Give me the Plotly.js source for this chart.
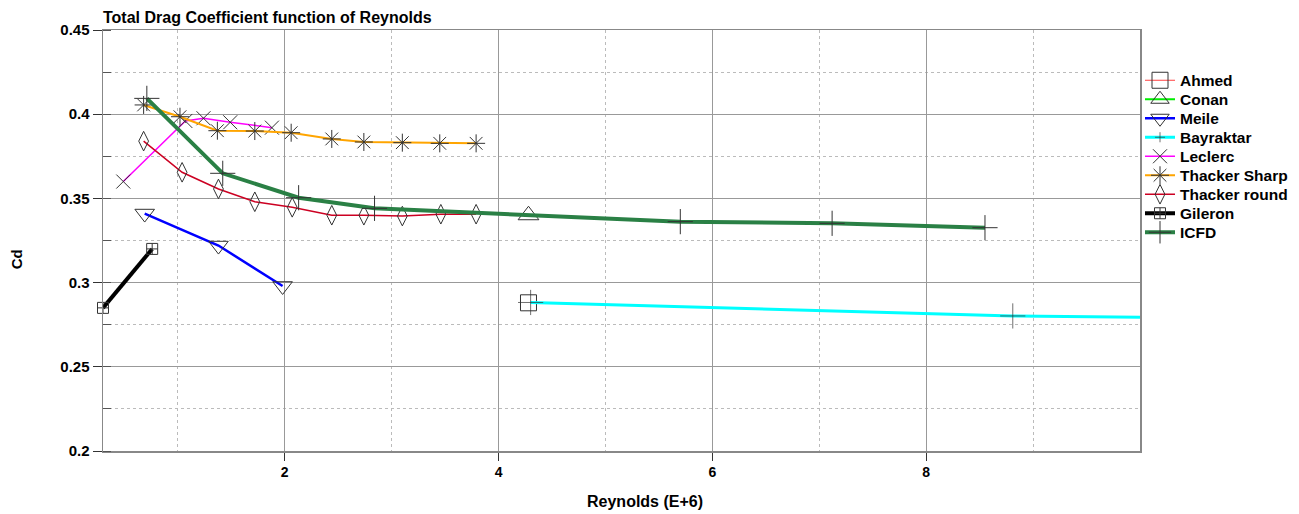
<!DOCTYPE html>
<html>
<head>
<meta charset="utf-8">
<script src="https://cdn.plot.ly/plotly-3.0.1.min.js"></script>
<style>html,body{margin:0;padding:0;background:#fff;}#chart{width:1299px;height:514px;}</style>
</head>
<body>
<div id="chart"></div>
<script>
// ---- data (Reynolds in E+6, Cd) ----
const ahmedX = [4.28];
const ahmedY = [0.288];
const conanX = [4.28];
const conanY = [0.340];
const meileX = [0.69, 1.38, 1.98];
const meileY = [0.341, 0.322, 0.298];
const bayraktarX = [4.30, 5.97, 7.95, 8.81, 10.0];
const bayraktarY = [0.2882, 0.2851, 0.2814, 0.2802, 0.2794];
const leclercX = [0.49, 1.07, 1.24, 1.49, 1.88];
const leclercY = [0.360, 0.396, 0.3976, 0.3952, 0.392];
const sharpX = [0.68, 1.02, 1.37, 1.72, 2.06, 2.44, 2.74, 3.10, 3.45, 3.79];
const sharpY = [0.4055, 0.3985, 0.3902, 0.3900, 0.3890, 0.3853, 0.3835, 0.3831, 0.3827, 0.3827];
const roundX = [0.68, 1.04, 1.38, 1.72, 2.07, 2.44, 2.74, 3.10, 3.46, 3.79];
const roundY = [0.384, 0.3655, 0.3556, 0.348, 0.3447, 0.340, 0.340, 0.3395, 0.3406, 0.3406];
const gileronX = [0.30, 0.76];
const gileronY = [0.285, 0.320];
const icfdX = [0.71, 1.42, 2.13, 2.84, 5.70, 7.12, 8.55];
const icfdY = [0.4094, 0.3649, 0.3504, 0.3441, 0.3362, 0.3352, 0.3326];
const xTicks = [2, 4, 6, 8];

const FAM = 'Liberation Sans, Arial, sans-serif';
const mk = (symbol, size) => ({symbol: symbol, size: size, color: '#333', line: {width: 1, color: '#333'}});

const traces = [
  {name: 'Ahmed', x: ahmedX, y: ahmedY, mode: 'lines+markers', line: {color: '#ff4040', width: 1}, marker: mk('square-open', 16)},
  {name: 'Conan', x: conanX, y: conanY, mode: 'lines+markers', line: {color: '#00ee00', width: 2}, marker: mk('triangle-up-open', 18)},
  {name: 'Meile', x: meileX, y: meileY, mode: 'lines+markers', line: {color: '#0000ff', width: 2.5}, marker: mk('triangle-down-open', 17)},
  {name: 'Bayraktar', x: bayraktarX, y: bayraktarY, mode: 'lines+markers', line: {color: '#00ffff', width: 3}, marker: Object.assign(mk('cross-thin-open', 18), {size: [18, 0, 0, 18, 0]})},
  {name: 'Leclerc', x: leclercX, y: leclercY, mode: 'lines+markers', line: {color: '#ff00ff', width: 1.5}, marker: mk('x-thin-open', 14)},
  {name: 'Thacker Sharp', x: sharpX, y: sharpY, mode: 'lines+markers', line: {color: '#ffa500', width: 2}, marker: mk('asterisk-open', 15)},
  {name: 'Thacker round', x: roundX, y: roundY, mode: 'lines+markers', line: {color: '#cc0022', width: 1.5}, marker: mk('diamond-tall-open', 14)},
  {name: 'Gileron', x: gileronX, y: gileronY, mode: 'lines+markers', line: {color: '#000000', width: 4}, marker: mk('square-cross-open', 11)},
  {name: 'ICFD', x: icfdX, y: icfdY, mode: 'lines+markers', line: {color: '#2a8045', width: 4}, marker: mk('cross-thin-open', 18)}
];
traces.forEach(t => { t.cliponaxis = false; });

const bold = (size) => ({family: FAM, size: size, weight: 'bold', color: '#000'});

const layout = {
  width: 1299, height: 514,
  paper_bgcolor: '#fff', plot_bgcolor: '#fff',
  margin: {l: 103, r: 159, t: 30, b: 63, autoexpand: false},
  font: bold(14),
  title: {text: 'Total Drag Coefficient function of Reynolds', x: 0, xref: 'paper', xanchor: 'left',
          y: 0.967, yref: 'container', yanchor: 'middle', font: bold(16)},
  showlegend: true,
  legend: {x: 1.0, xanchor: 'left', y: 0.92, yanchor: 'top', font: bold(15.5),
           bgcolor: 'rgba(0,0,0,0)', tracegroupgap: 0, itemwidth: 30},
  xaxis: {
    range: [0.3, 10], tickvals: xTicks, ticktext: xTicks.map(String),
    showline: true, linecolor: '#888', linewidth: 1.5, mirror: true,
    ticks: 'outside', ticklen: 8, tickcolor: '#333',
    showgrid: true, gridcolor: '#999', gridwidth: 1, zeroline: false,
    minor: {dtick: 1, tick0: 1, showgrid: true, gridcolor: '#bbb', griddash: 'dot', ticks: ''},
    tickfont: bold(14)
  },
  yaxis: {
    range: [0.2, 0.45], dtick: 0.05, tick0: 0.2,
    showline: true, linecolor: '#888', linewidth: 1.5, mirror: true,
    ticks: 'outside', ticklen: 9, tickcolor: '#333',
    showgrid: true, gridcolor: '#999', gridwidth: 1, zeroline: false,
    minor: {dtick: 0.025, showgrid: true, gridcolor: '#bbb', griddash: 'dot', ticks: 'inside', ticklen: 8, tickcolor: '#555'},
    tickfont: bold(15)
  },
  annotations: [
    {text: 'Cd', xref: 'paper', yref: 'paper', x: -0.083, y: 0.455, xanchor: 'center', yanchor: 'middle',
     textangle: -90, showarrow: false, font: bold(15)},
    {text: 'Reynolds (E+6)', xref: 'paper', yref: 'paper', x: 0.523, y: -0.121, xanchor: 'center', yanchor: 'middle',
     showarrow: false, font: bold(16)}
  ]
};

Plotly.newPlot('chart', traces, layout, {displayModeBar: false, staticPlot: true}).then(gd => {
  // tighten legend row spacing to match reference (19px per entry)
  const items = gd.querySelectorAll('.legend .traces');
  if (!items.length) return;
  const parse = (s) => { const m = /translate\(\s*([-\d.]+)[ ,]+([-\d.]+)/.exec(s || ''); return m ? [+m[1], +m[2]] : [0, 0]; };
  const first = parse(items[0].getAttribute('transform'));
  items.forEach((g, i) => {
    const p = parse(g.getAttribute('transform'));
    g.setAttribute('transform', 'translate(' + p[0] + ',' + (first[1] + i * 19) + ')');
  });
});
</script>
</body>
</html>
